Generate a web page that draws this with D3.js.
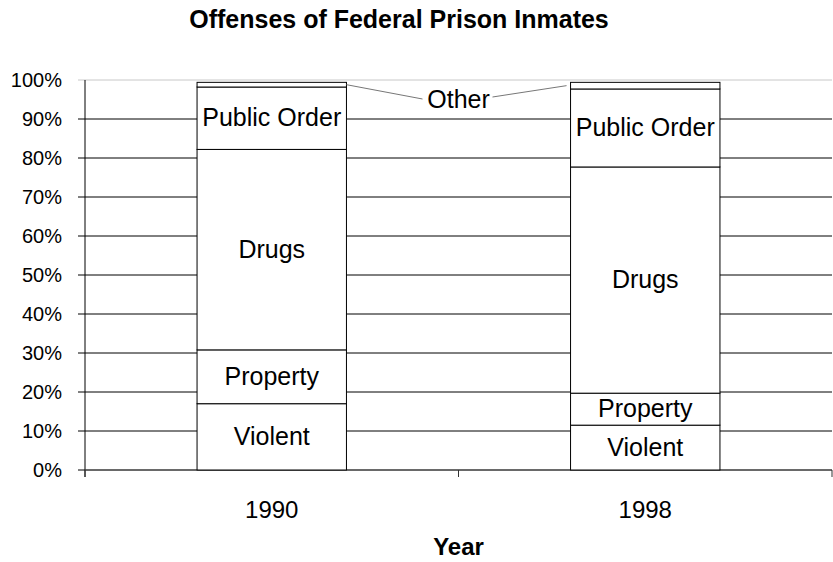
<!DOCTYPE html>
<html><head><meta charset="utf-8">
<script src="https://cdn.jsdelivr.net/npm/d3@7"></script>
<style>
body{margin:0;background:#fff;}
text{font-family:"Liberation Sans",Arial,sans-serif;fill:#000;}
</style></head>
<body>
<svg id="chart" width="833" height="562"></svg>
<script>
const years = ["1990", "1998"];
const categories = ["Violent", "Property", "Drugs", "Public Order", "Other"];
const violent = [17.0, 11.5];
const property = [13.8, 8.2];
const drugs = [51.4, 58.0];
const publicOrder = [16.0, 20.0];
const other = [1.2, 1.7];
const yTicks = [0, 10, 20, 30, 40, 50, 60, 70, 80, 90, 100];

(function () {
const seriesVals = [violent, property, drugs, publicOrder, other];
const table = years.map((yr, i) => {
  const row = {year: yr};
  categories.forEach((c, k) => row[c] = seriesVals[k][i]);
  return row;
});
const stacked = d3.stack().keys(categories)(table);

const svg = d3.select("#chart");
const pL = 85, pR = 832, pT = 80, pB = 470;
const x = d3.scaleBand().domain(years).range([pL, pR]).paddingInner(0.6).paddingOuter(0.3);
const y = d3.scaleLinear().domain([0, 100]).range([pB, pT]);

// gridlines
svg.append("g").selectAll("line").data(yTicks).join("line")
  .attr("x1", pL - 7).attr("x2", pR)
  .attr("y1", d => y(d)).attr("y2", d => y(d))
  .attr("stroke", d => d === 100 ? "#c8c8c8" : "#000")
  .attr("stroke-width", 1);

// y axis
const yAxis = d3.axisLeft(y).tickValues(yTicks).tickFormat(d => d + "%").tickSize(7).tickPadding(6);
const gy = svg.append("g").attr("transform", `translate(${pL},0)`).call(yAxis);
gy.select(".domain").remove();
gy.selectAll(".tick line").remove();
gy.selectAll(".tick text").style("font-size", "20px").attr("x", -23).attr("dy", "0.34em")
  .style("font-family", "'Liberation Sans', Arial, sans-serif");
svg.append("line").attr("x1", pL).attr("x2", pL).attr("y1", pT).attr("y2", pB + 7).attr("stroke", "#000");

// x axis
svg.append("line").attr("x1", pL).attr("x2", pR).attr("y1", pB).attr("y2", pB).attr("stroke", "#555");
const bounds = [pL, (pL + pR) / 2, pR];
svg.append("g").selectAll("line").data(bounds).join("line")
  .attr("x1", d => d).attr("x2", d => d).attr("y1", pB).attr("y2", pB + 7).attr("stroke", "#333");
svg.append("g").selectAll("text").data(years).join("text")
  .attr("x", d => x(d) + x.bandwidth() / 2).attr("y", 518)
  .attr("text-anchor", "middle").style("font-size", "24px").text(d => d);

// bars
const g = svg.append("g");
stacked.forEach(layer => {
  g.append("g").selectAll("rect").data(layer).join("rect")
    .attr("x", d => x(d.data.year))
    .attr("width", x.bandwidth())
    .attr("y", d => y(d[1]))
    .attr("height", d => y(d[0]) - y(d[1]))
    .attr("fill", "#fff").attr("stroke", "#000").attr("stroke-width", 1);
});

// segment labels (not Other)
stacked.forEach(layer => {
  if (layer.key === "Other") return;
  g.append("g").selectAll("text").data(layer).join("text")
    .attr("x", d => x(d.data.year) + x.bandwidth() / 2)
    .attr("y", d => (y(d[0]) + y(d[1])) / 2)
    .attr("dy", "0.33em")
    .attr("text-anchor", "middle").style("font-size", "25px")
    .text(layer.key);
});

// Other label with leader lines
const otherLayer = stacked[4];
const lx = (pL + pR) / 2, ly = 99;
svg.append("text").attr("x", lx).attr("y", ly).attr("dy", "0.36em")
  .attr("text-anchor", "middle").style("font-size", "25px").text("Other");
const o0 = otherLayer[0], o1 = otherLayer[1];
svg.append("line")
  .attr("x1", x(years[0]) + x.bandwidth()).attr("y1", y((o0[0] + o0[1]) / 2))
  .attr("x2", lx - 36).attr("y2", ly)
  .attr("stroke", "#777").attr("stroke-width", 1);
svg.append("line")
  .attr("x1", lx + 34).attr("y1", ly - 2)
  .attr("x2", x(years[1]) - 4).attr("y2", y((o1[0] + o1[1]) / 2))
  .attr("stroke", "#777").attr("stroke-width", 1);

// title and axis title
svg.append("text").attr("x", 399).attr("y", 28).attr("text-anchor", "middle")
  .style("font-size", "25px").style("font-weight", "bold").text("Offenses of Federal Prison Inmates");
svg.append("text").attr("x", (pL + pR) / 2).attr("y", 555).attr("text-anchor", "middle")
  .style("font-size", "24px").style("font-weight", "bold").text("Year");
})();
</script>
</body></html>
